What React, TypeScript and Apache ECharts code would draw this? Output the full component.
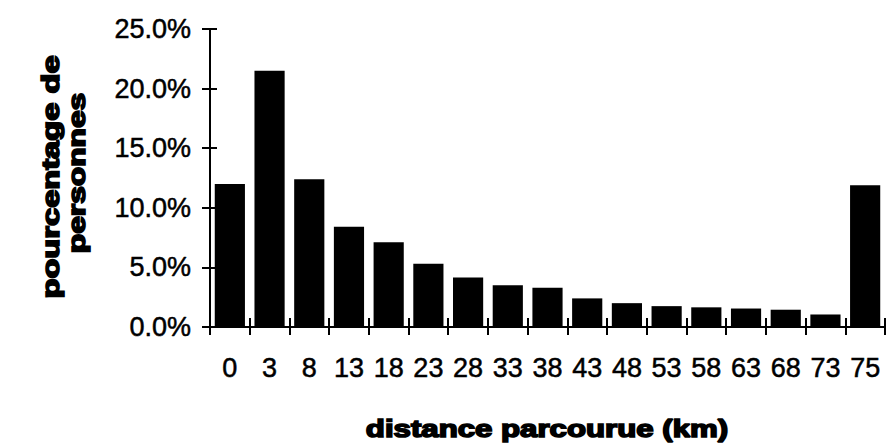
import React, { useEffect, useRef } from "react";
import * as echarts from "echarts";

const categories = ["0", "3", "8", "13", "18", "23", "28", "33", "38", "43", "48", "53", "58", "63", "68", "73", "75"];
const percentages = [12.0, 21.5, 12.4, 8.4, 7.1, 5.3, 4.15, 3.5, 3.3, 2.4, 2.0, 1.75, 1.65, 1.55, 1.45, 1.05, 11.9];
const yTicks = { min: 0, max: 25, interval: 5 };
const xTitle = "distance parcourue (km)";
const yTitleLines = ["pourcentage de", "personnes"];

const FONT = '"Liberation Sans", Arial, Helvetica, sans-serif';

const titleStyle = (text: string, size: number) => ({
  text,
  fontFamily: FONT,
  fontWeight: "bold",
  fontSize: size,
  fill: "#000",
  stroke: "#000",
  lineWidth: 1.6,
  align: "center",
  verticalAlign: "middle",
  textAlign: "center",
  textVerticalAlign: "middle",
});

export default function App() {
  const ref = useRef<HTMLDivElement>(null);
  useEffect(() => {
    if (!ref.current) return;
    const chart = echarts.init(ref.current, null, { renderer: "svg" });
    chart.setOption({
      animation: false,
      backgroundColor: "#fff",
      grid: { left: 210, right: 2, top: 29, bottom: 118, containLabel: false },
      xAxis: [
        {
          type: "category",
          data: categories,
          boundaryGap: true,
          axisLine: { show: true, lineStyle: { color: "#000", width: 2 } },
          axisTick: { show: true, inside: false, length: 8, lineStyle: { color: "#000", width: 2 } },
          axisLabel: {
            color: "#000",
            fontFamily: FONT,
            fontSize: 27,
            lineHeight: 27,
            margin: 27,
            interval: 0,
            textBorderColor: "#000",
            textBorderWidth: 0.5,
          },
        },
        {
          type: "category",
          data: categories,
          position: "bottom",
          boundaryGap: true,
          axisLine: { show: false },
          axisTick: { show: true, inside: true, length: 9, lineStyle: { color: "#000", width: 2 } },
          axisLabel: { show: false },
        },
      ],
      yAxis: [
        {
          type: "value",
          min: yTicks.min,
          max: yTicks.max,
          interval: yTicks.interval,
          splitLine: { show: false },
          axisLine: { show: true, lineStyle: { color: "#000", width: 2 } },
          axisTick: { show: true, inside: false, length: 8, lineStyle: { color: "#000", width: 2 } },
          axisLabel: {
            color: "#000",
            fontFamily: FONT,
            fontSize: 27,
            margin: 19,
            textBorderColor: "#000",
            textBorderWidth: 0.5,
            formatter: (v: number) => `${v.toFixed(1)}%`,
          },
        },
        {
          type: "value",
          min: yTicks.min,
          max: yTicks.max,
          interval: yTicks.interval,
          position: "left",
          splitLine: { show: false },
          axisLine: { show: false },
          axisTick: { show: true, inside: true, length: 7, lineStyle: { color: "#000", width: 2 } },
          axisLabel: { show: false },
        },
      ],
      series: [
        {
          type: "bar",
          data: percentages,
          xAxisIndex: 0,
          yAxisIndex: 0,
          barCategoryGap: "24%",
          itemStyle: { color: "#000" },
        },
      ],
      graphic: [
        {
          type: "text",
          x: 547,
          y: 429,
          scaleX: 1.3,
          style: titleStyle(xTitle, 24),
        },
        {
          type: "text",
          x: 51,
          y: 177,
          rotation: Math.PI / 2,
          scaleX: 1.42,
          style: titleStyle(yTitleLines[0], 23),
        },
        {
          type: "text",
          x: 77,
          y: 173,
          rotation: Math.PI / 2,
          scaleX: 1.38,
          style: titleStyle(yTitleLines[1], 23),
        },
      ],
    });
    return () => chart.dispose();
  }, []);
  return (
    <div
      ref={ref}
      style={{ position: "fixed", left: 0, top: 0, width: 887, height: 445 }}
    />
  );
}
